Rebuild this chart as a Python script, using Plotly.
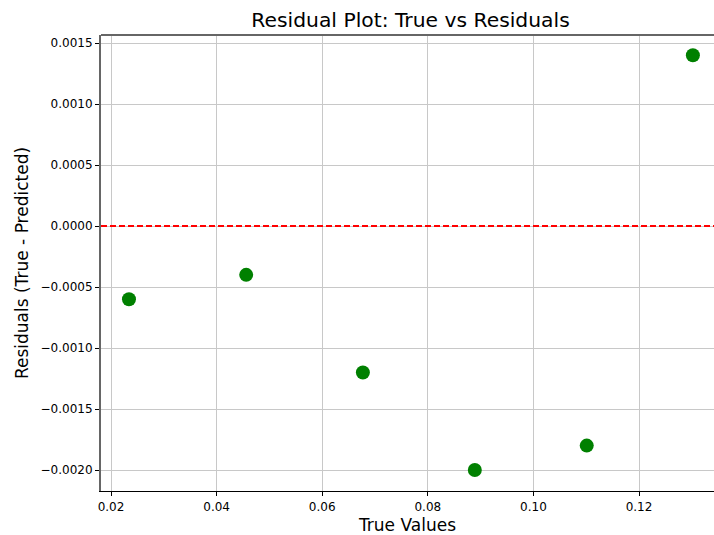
import plotly.graph_objects as go

true_values = [0.0234, 0.0456, 0.0677, 0.0889, 0.1101, 0.1302]
residuals = [-0.0006, -0.0004, -0.0012, -0.0020, -0.0018, 0.0014]
x_ticks = [0.02, 0.04, 0.06, 0.08, 0.10, 0.12]
x_tick_labels = ["0.02", "0.04", "0.06", "0.08", "0.10", "0.12"]
y_ticks = [0.0015, 0.0010, 0.0005, 0.0, -0.0005, -0.0010, -0.0015, -0.0020]
y_tick_labels = ["0.0015", "0.0010", "0.0005", "0.0000", "−0.0005", "−0.0010", "−0.0015", "−0.0020"]

x_range = [0.0181, 0.1342]
y_range = [-0.002172, 0.001566]

fig = go.Figure()
fig.add_trace(go.Scatter(
    x=true_values, y=residuals, mode="markers",
    marker=dict(color="#008000", size=14, line=dict(width=0)),
    showlegend=False,
))
fig.add_shape(type="line", xref="paper", x0=0, x1=1, yref="y", y0=0, y1=0,
              line=dict(color="red", width=2, dash="6px,3px"))

font = "DejaVu Sans, sans-serif"
fig.update_layout(
    width=714, height=535,
    margin=dict(l=101, r=0, t=35, b=44),
    paper_bgcolor="white", plot_bgcolor="white",
    title=dict(text="Residual Plot: True vs Residuals", x=0.575, xanchor="center",
               y=1 - 20 / 535, yanchor="middle",
               font=dict(family=font, size=20.3, color="black")),
    xaxis=dict(range=x_range, tickvals=x_ticks, ticktext=x_tick_labels,
               showgrid=True, gridcolor="#c8c8c8", gridwidth=1,
               ticks="outside", ticklen=4, tickcolor="black",
               showline=True, linecolor="black", linewidth=1.2,
               zeroline=False,
               tickfont=dict(family=font, size=12, color="black"),
               title=dict(text="True Values", font=dict(family=font, size=17, color="black"), standoff=6)),
    yaxis=dict(range=y_range, tickvals=y_ticks, ticktext=y_tick_labels,
               showgrid=True, gridcolor="#c8c8c8", gridwidth=1,
               ticks="outside", ticklen=4, tickcolor="black",
               showline=True, linecolor="#666666", linewidth=2,
               zeroline=False,
               tickfont=dict(family=font, size=12, color="black"),
               title=dict(text="Residuals (True - Predicted)", font=dict(family=font, size=17, color="black"), standoff=8)),
)
fig.add_shape(type="line", xref="paper", yref="paper", x0=0, x1=1, y0=1, y1=1,
              line=dict(color="#666666", width=2))
fig.write_html("out.html")
